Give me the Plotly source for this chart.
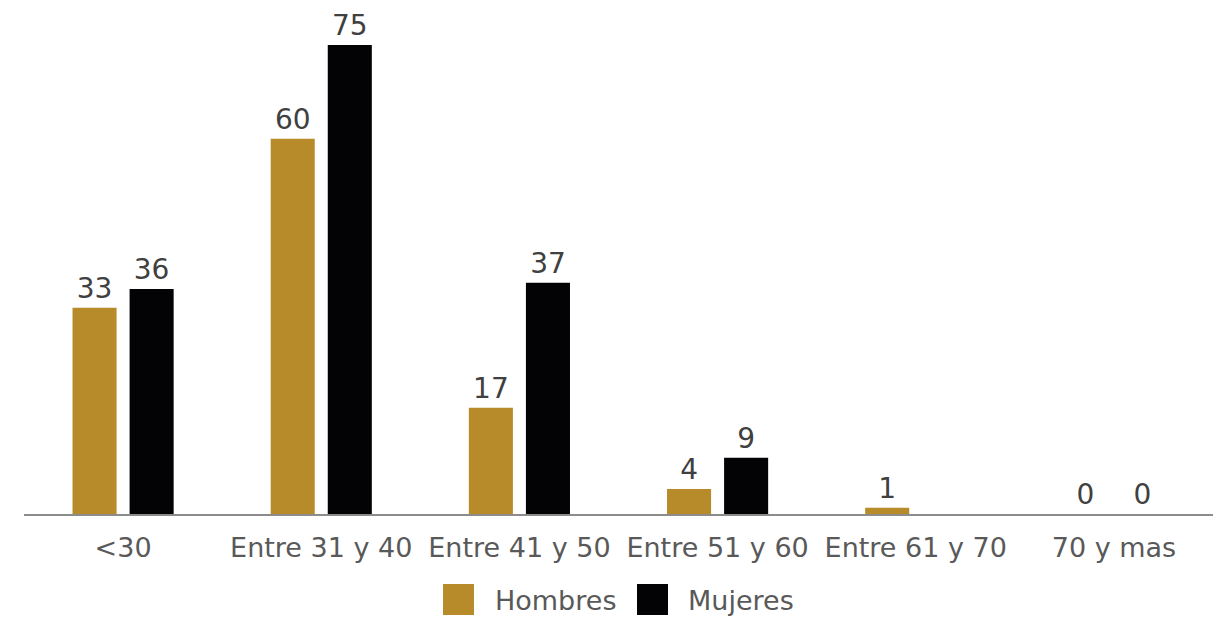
import plotly.graph_objects as go

categories = ["<30", "Entre 31 y 40", "Entre 41 y 50", "Entre 51 y 60", "Entre 61 y 70", "70 y mas"]
hombres = [33, 60, 17, 4, 1, 0]
mujeres = [36, 75, 37, 9, None, 0]
series_names = ["Hombres", "Mujeres"]
series_colors = ["#B88B2A", "#030306"]

FONT = "DejaVu Sans"
OFF = 8  # page body margin offset
W, H = 1229 - OFF, 624 - OFF
L, R, T, B = 24 - OFF, 16, 20 - OFF, 110
plot_w = W - L - R
plot_h = H - T - B

fig = go.Figure()
for name, vals, col in zip(series_names, [hombres, mujeres], series_colors):
    fig.add_trace(go.Bar(
        x=categories, y=vals, name=name,
        marker=dict(color=col, line=dict(width=0)),
        text=[("" if v is None else str(v)) for v in vals],
        textposition="outside",
        textfont=dict(family=FONT, size=28, color="#404040"),
        cliponaxis=False,
        showlegend=False,
    ))

# manual legend (larger squares like the reference), positions in page pixels
def px_x(px):
    return (px - OFF - L) / plot_w

def px_y(py):
    return (H - B - (py - OFF)) / plot_h

legend_items = [(443, 474, 493), (637, 668, 686)]
shapes = []
annotations = []
for (sx0, sx1, tx), name, col in zip(legend_items, series_names, series_colors):
    shapes.append(dict(type="rect", xref="paper", yref="paper",
                       x0=px_x(sx0), x1=px_x(sx1), y0=px_y(615), y1=px_y(584),
                       fillcolor=col, line=dict(width=0)))
    annotations.append(dict(xref="paper", yref="paper", x=px_x(tx), y=px_y(600),
                            xanchor="left", yanchor="middle", showarrow=False,
                            text=name, font=dict(family=FONT, size=27, color="#595959")))

fig.update_layout(
    width=W, height=H,
    margin=dict(l=L, r=R, t=T, b=B),
    paper_bgcolor="white", plot_bgcolor="white",
    barmode="group", bargap=0.424, bargroupgap=0.228,
    showlegend=False,
    font=dict(family=FONT, color="#595959"),
    xaxis=dict(showline=True, linecolor="#8C8C8C", linewidth=2, ticks="",
               ticklabelstandoff=9,
               showgrid=False, tickfont=dict(family=FONT, size=27, color="#595959")),
    yaxis=dict(visible=False, range=[0, plot_h / 6.253], showgrid=False, zeroline=False),
    shapes=shapes, annotations=annotations,
)

fig.write_html("out.html")
